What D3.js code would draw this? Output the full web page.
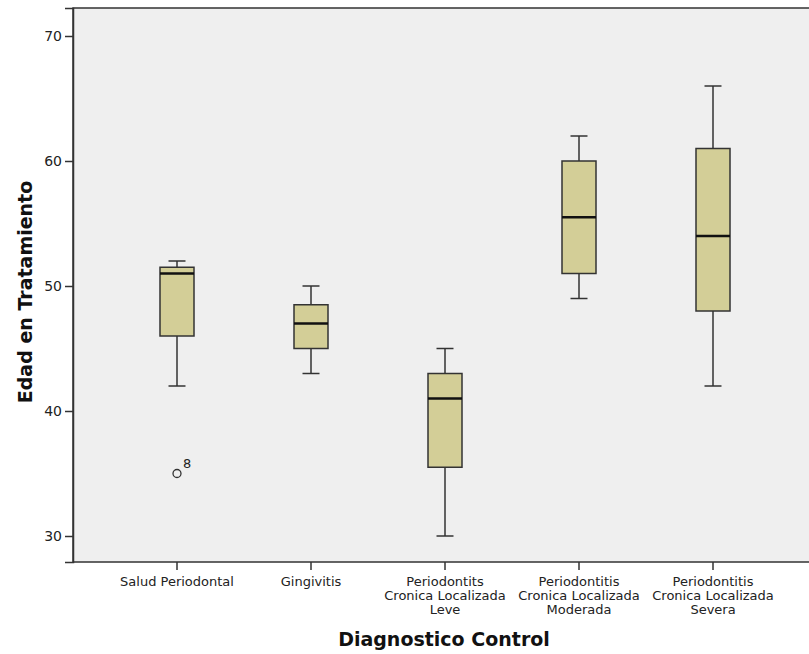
<!DOCTYPE html>
<html><head><meta charset="utf-8">
<script src="https://cdn.jsdelivr.net/npm/d3@7"></script>
<style>body{margin:0;background:#fff;}svg{display:block;}</style>
</head><body>
<script>
const categories = [
  ["Salud Periodontal"],
  ["Gingivitis"],
  ["Periodontits","Cronica Localizada","Leve"],
  ["Periodontitis","Cronica Localizada","Moderada"],
  ["Periodontitis","Cronica Localizada","Severa"]
];
const whiskerLow  = [42, 43, 30, 49, 42];
const q1          = [46, 45, 35.5, 51, 48];
const medians     = [51, 47, 41, 55.5, 54];
const q3          = [51.5, 48.5, 43, 60, 61];
const whiskerHigh = [52, 50, 45, 62, 66];
const outliers = [{cat: 0, value: 35, label: "8"}];
const yTicks = [30, 40, 50, 60, 70];
const yTitle = "Edad en Tratamiento";
const xTitle = "Diagnostico Control";

(function () {
const W = 809, H = 654;
const pLeft = 73, pRight = 830, pTop = 8, pBottom = 562;
const svg = d3.select("body").append("svg").attr("width", W).attr("height", H);
const font = "DejaVu Sans, sans-serif";

const keys = categories.map((c, i) => i);
const x = d3.scaleBand().domain(keys).range([110, 780]);
const y = d3.scaleLinear().domain([70 + (36 - pTop) / 12.5, 30 - (pBottom - 536) / 12.5]).range([pTop, pBottom]);

svg.append("rect").attr("x", pLeft).attr("y", pTop).attr("width", pRight - pLeft).attr("height", pBottom - pTop)
  .attr("fill", "#efefef").attr("stroke", "#333").attr("stroke-width", 1.5);

// y axis
const yAxis = svg.append("g").attr("transform", `translate(${pLeft},0)`)
  .call(d3.axisLeft(y).tickValues(yTicks).tickSize(8).tickPadding(3));
yAxis.select(".domain").attr("stroke", "#333").attr("stroke-width", 1.5);
yAxis.selectAll(".tick line").attr("stroke", "#333").attr("stroke-width", 1.5);
yAxis.selectAll(".tick text").attr("font-family", font).attr("font-size", 14).attr("fill", "#222");

// x axis
const xAxis = svg.append("g").attr("transform", `translate(0,${pBottom})`)
  .call(d3.axisBottom(x).tickSize(8).tickFormat(""));
xAxis.select(".domain").remove();
xAxis.selectAll(".tick line").attr("stroke", "#333").attr("stroke-width", 1.5);
xAxis.selectAll(".tick").each(function(d) {
  const t = d3.select(this).append("text").attr("fill", "#222").attr("font-family", font)
    .attr("font-size", 13).attr("text-anchor", "middle");
  categories[d].forEach((line, j) => {
    t.append("tspan").attr("x", 0).attr("y", 24 + j * 14).text(line);
  });
});

const bw = 34, cw = 17;
const g = svg.append("g");
keys.forEach(i => {
  const cx = x(i) + x.bandwidth() / 2;
  g.append("line").attr("x1", cx).attr("x2", cx).attr("y1", y(whiskerHigh[i])).attr("y2", y(q3[i]))
    .attr("stroke", "#333").attr("stroke-width", 1.5);
  g.append("line").attr("x1", cx).attr("x2", cx).attr("y1", y(q1[i])).attr("y2", y(whiskerLow[i]))
    .attr("stroke", "#333").attr("stroke-width", 1.5);
  [whiskerHigh[i], whiskerLow[i]].forEach(v => {
    g.append("line").attr("x1", cx - cw / 2).attr("x2", cx + cw / 2).attr("y1", y(v)).attr("y2", y(v))
      .attr("stroke", "#333").attr("stroke-width", 1.5);
  });
  g.append("rect").attr("x", cx - bw / 2).attr("y", y(q3[i])).attr("width", bw)
    .attr("height", y(q1[i]) - y(q3[i])).attr("fill", "#d3ce97").attr("stroke", "#333").attr("stroke-width", 1.5);
  g.append("line").attr("x1", cx - bw / 2).attr("x2", cx + bw / 2).attr("y1", y(medians[i])).attr("y2", y(medians[i]))
    .attr("stroke", "#111").attr("stroke-width", 2.5);
});
outliers.forEach(o => {
  const cx = x(o.cat) + x.bandwidth() / 2;
  g.append("circle").attr("cx", cx).attr("cy", y(o.value)).attr("r", 4)
    .attr("fill", "none").attr("stroke", "#333").attr("stroke-width", 1.3);
  g.append("text").attr("x", cx + 6).attr("y", y(o.value) - 6).attr("font-family", font)
    .attr("font-size", 13).attr("fill", "#222").text(o.label);
});

svg.append("text").attr("transform", `translate(32,${(pTop + pBottom) / 2 + 7}) rotate(-90)`)
  .attr("text-anchor", "middle").attr("font-family", font).attr("font-weight", "bold")
  .attr("font-size", 19).attr("fill", "#111").text(yTitle);
svg.append("text").attr("x", 444).attr("y", 646).attr("text-anchor", "middle").attr("font-family", font)
  .attr("font-weight", "bold").attr("font-size", 19).attr("fill", "#111").text(xTitle);
})();
</script>
</body></html>
